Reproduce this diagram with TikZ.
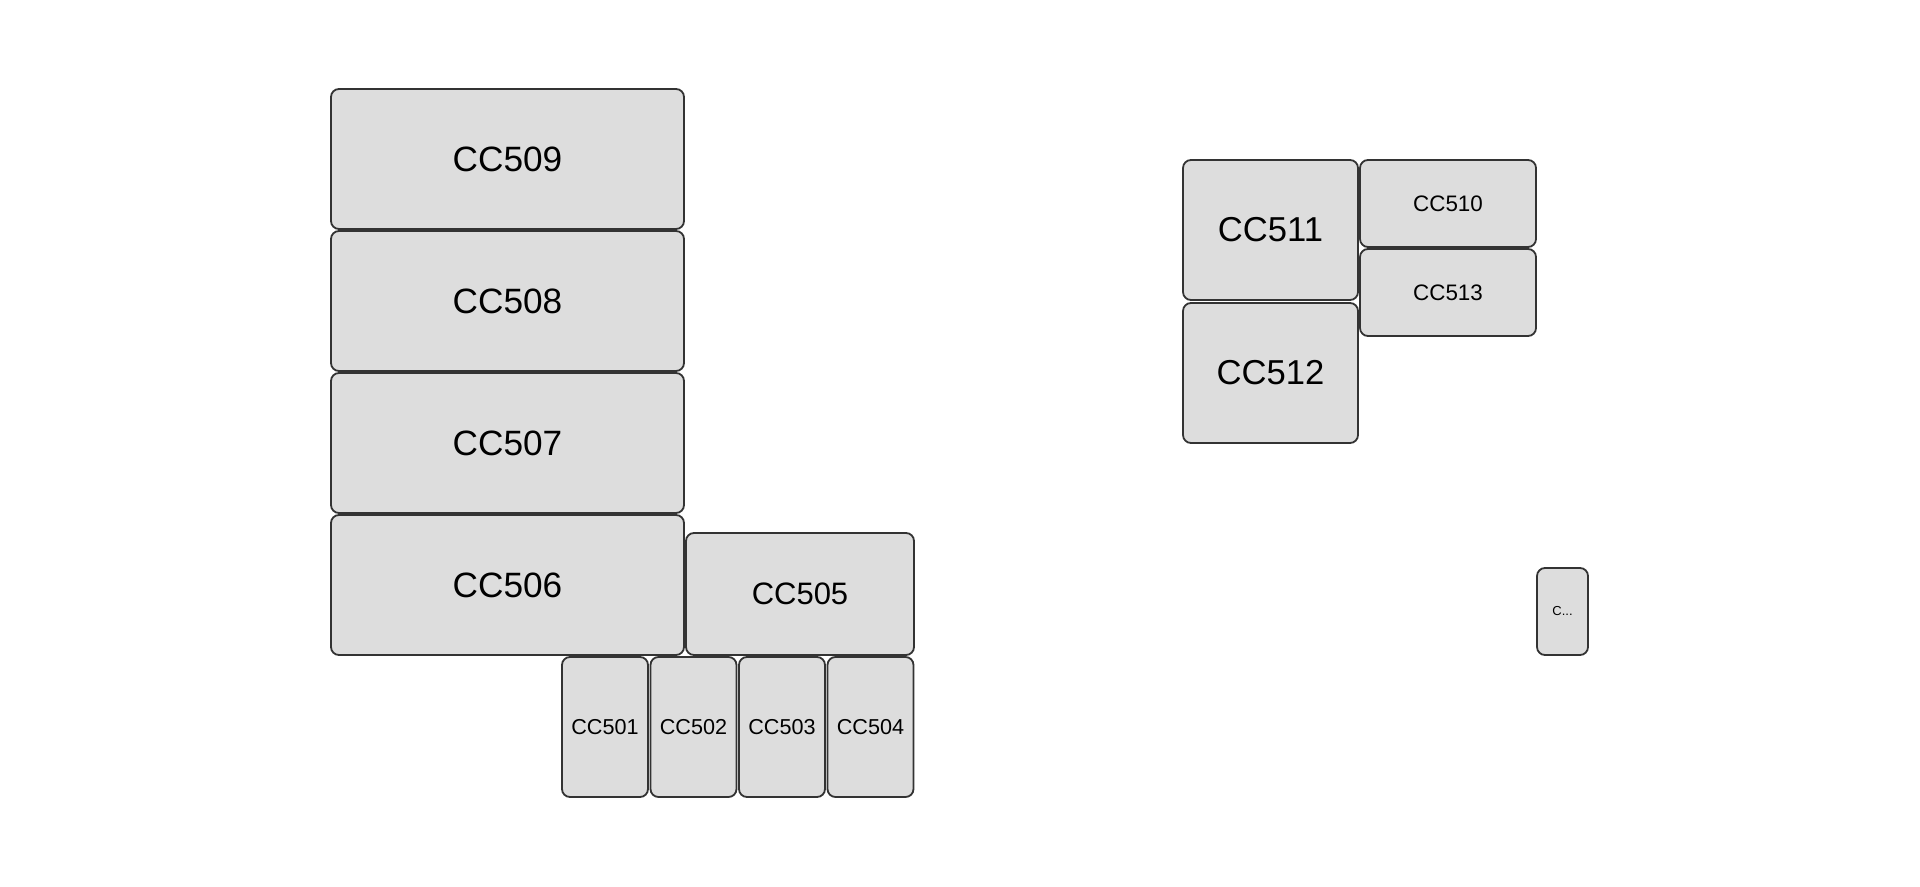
\documentclass[tikz,border=0pt]{standalone}
\usepackage{fontspec}
\setmainfont{Liberation Sans}
\definecolor{boxfill}{HTML}{DDDDDD}
\definecolor{boxline}{HTML}{333333}
\begin{document}
\begin{tikzpicture}[x=0.5pt,y=-0.5pt,
  cell/.style={draw=boxline,fill=boxfill,line width=0.9pt,rounded corners=4pt,inner sep=0pt,text=black},
  big/.style={cell,minimum width=176.5pt,minimum height=70pt,font=\fontsize{17.6}{19}\selectfont},
  tall/.style={cell,minimum width=43pt,minimum height=70pt,font=\fontsize{10.8}{12}\selectfont},
  mid/.style={cell,minimum width=87.5pt,minimum height=70pt,font=\fontsize{17.3}{19}\selectfont},
  flat/.style={cell,minimum width=88pt,minimum height=43.5pt,font=\fontsize{11.2}{13}\selectfont}]
\useasboundingbox (0,0) rectangle (1920,887);
\node[big] (cc509) at (507.5,159) {CC509};
\node[big] (cc508) at (507.5,301) {CC508};
\node[big] (cc507) at (507.5,443) {CC507};
\node[big] (cc506) at (507.5,585) {CC506};
\node[cell,minimum width=114pt,minimum height=61pt,font=\fontsize{15.5}{17}\selectfont] (cc505) at (800,594) {CC505};
\node[tall] (cc501) at (605,727) {CC501};
\node[tall] (cc502) at (693.5,727) {CC502};
\node[tall] (cc503) at (782,727) {CC503};
\node[tall] (cc504) at (870.5,727) {CC504};
\node[mid] (cc511) at (1270.5,230) {CC511};
\node[mid] (cc512) at (1270.5,373) {CC512};
\node[flat] (cc510) at (1448,203.5) {CC510};
\node[flat] (cc513) at (1448,292.5) {CC513};
\node[cell,minimum width=25.5pt,minimum height=43.5pt,font=\fontsize{6.5}{8}\selectfont] (ccx) at (1562.5,611.5) {C...};
\end{tikzpicture}
\end{document}
